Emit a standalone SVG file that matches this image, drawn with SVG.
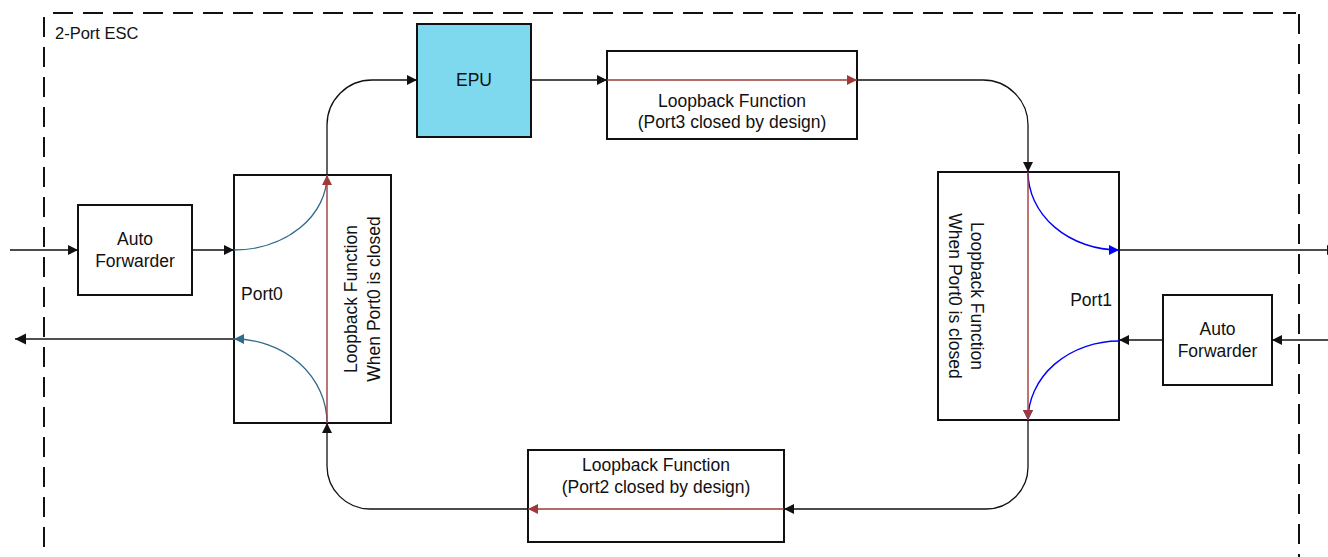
<svg xmlns="http://www.w3.org/2000/svg" width="1328" height="557" viewBox="0 0 1328 557">
<style>
  .box{fill:#fff;stroke:#111;stroke-width:2}
  .epu{fill:#7fd9ee;stroke:#111;stroke-width:2}
  .t{font-family:"Liberation Sans",Arial,sans-serif;font-size:17.5px;fill:#111}
  .c{text-anchor:middle}
  .ln{fill:none;stroke:#111;stroke-width:1.3}
  .red{fill:none;stroke:#9e3a3a;stroke-width:1.4}
  .teal{fill:none;stroke:#2f6b8a;stroke-width:1.3}
  .blue{fill:none;stroke:#0000ff;stroke-width:1.4}
  .dash{fill:none;stroke:#111;stroke-width:2;stroke-dasharray:20 10}
</style>
<defs>
  <marker id="ab" markerUnits="userSpaceOnUse" markerWidth="11" markerHeight="11" refX="10" refY="5" orient="auto"><path d="M0,0 L10,5 L0,10 z" fill="#111"/></marker>
  <marker id="ar" markerUnits="userSpaceOnUse" markerWidth="11" markerHeight="11" refX="10" refY="5" orient="auto"><path d="M0,0 L10,5 L0,10 z" fill="#9e3a3a"/></marker>
  <marker id="at" markerUnits="userSpaceOnUse" markerWidth="11" markerHeight="11" refX="10" refY="5" orient="auto"><path d="M0,0 L10,5 L0,10 z" fill="#2f6b8a"/></marker>
  <marker id="abl" markerUnits="userSpaceOnUse" markerWidth="11" markerHeight="11" refX="10" refY="5" orient="auto"><path d="M0,0 L10,5 L0,10 z" fill="#0000ff"/></marker>
  <marker id="ab2" markerUnits="userSpaceOnUse" markerWidth="12" markerHeight="12" refX="11" refY="5.5" orient="auto"><path d="M0,0 L11,5.5 L0,11 z" fill="#111"/></marker>
</defs>

<g id="esc-boundary">
  <path class="dash" d="M53,13 H1296"/>
  <path class="dash" d="M44,17 V557"/>
  <path class="dash" d="M1299,14 V557"/>
  <text class="t" x="55" y="39" style="font-size:16.5px">2-Port ESC</text>
</g>

<g id="auto-forwarder-left">
  <rect class="box" x="78" y="205" width="114" height="90"/>
  <text class="t c" x="135" y="245">Auto</text>
  <text class="t c" x="135" y="267">Forwarder</text>
</g>

<g id="port0">
  <rect class="box" x="234" y="175" width="157" height="248"/>
  <text class="t" x="241" y="300">Port0</text>
  <text class="t c" transform="translate(357,299) rotate(-90)">Loopback Function</text>
  <text class="t c" transform="translate(380,299) rotate(-90)">When Port0 is closed</text>
</g>

<g id="epu">
  <rect class="epu" x="417" y="24" width="114" height="113"/>
  <text class="t c" x="474" y="86">EPU</text>
</g>

<g id="loopback-port3">
  <rect class="box" x="607" y="51" width="250" height="88"/>
  <text class="t c" x="732" y="107">Loopback Function</text>
  <text class="t c" x="732" y="128">(Port3 closed by design)</text>
</g>

<g id="port1">
  <rect class="box" x="938" y="172" width="181" height="248"/>
  <text class="t" x="1112" y="306" text-anchor="end">Port1</text>
  <text class="t c" transform="translate(971,296) rotate(90)">Loopback Function</text>
  <text class="t c" transform="translate(949,296) rotate(90)">When Port0 is closed</text>
</g>

<g id="auto-forwarder-right">
  <rect class="box" x="1163" y="295" width="109" height="90"/>
  <text class="t c" x="1217.5" y="335">Auto</text>
  <text class="t c" x="1217.5" y="357">Forwarder</text>
</g>

<g id="loopback-port2">
  <rect class="box" x="528" y="450" width="256" height="92"/>
  <text class="t c" x="656" y="471">Loopback Function</text>
  <text class="t c" x="656" y="493">(Port2 closed by design)</text>
</g>

<g id="connectors">
  <path class="ln" d="M10,250 H78" marker-end="url(#ab)"/>
  <path class="ln" d="M192,250 H234" marker-end="url(#ab)"/>
  <path d="M234,339 H15" fill="none" stroke="#505050" stroke-width="2.2" marker-end="url(#ab2)"/>
  <path class="ln" d="M327,175 V125 A45,45 0 0 1 372,80 H417" marker-end="url(#ab)"/>
  <path class="ln" d="M531,80 H607" marker-end="url(#ab)"/>
  <path class="ln" d="M857,80 H983 A45,45 0 0 1 1028,125 V172" marker-end="url(#ab)"/>
  <path class="ln" d="M1028,420 V467 A42,42 0 0 1 986,509 H784" marker-end="url(#ab)"/>
  <path class="ln" d="M528,509 H370 A43,43 0 0 1 327,466 V423" marker-end="url(#ab)"/>
  <path class="ln" d="M1163,340 H1119" marker-end="url(#ab)"/>
  <path class="ln" d="M1328,340 H1272" marker-end="url(#ab)"/>
  <path class="ln" d="M1119,250 H1337" marker-end="url(#ab)"/>

  <path class="teal" d="M234,250 A93,75 0 0 0 327,175"/>
  <path class="teal" d="M327,423 A93,84 0 0 0 234,339" marker-end="url(#at)"/>
  <path class="blue" d="M1028,172 A91,78 0 0 0 1119,250" marker-end="url(#abl)"/>
  <path class="blue" d="M1119,341 A91,79 0 0 0 1028,420" marker-end="url(#abl)"/>

  <path class="red" d="M327,423 V175" marker-end="url(#ar)"/>
  <path class="red" d="M1028,172 V420" marker-end="url(#ar)"/>
  <path class="red" d="M607,80 H857" marker-end="url(#ar)"/>
  <path class="red" d="M784,509 H528" marker-end="url(#ar)"/>
</g>
</svg>
